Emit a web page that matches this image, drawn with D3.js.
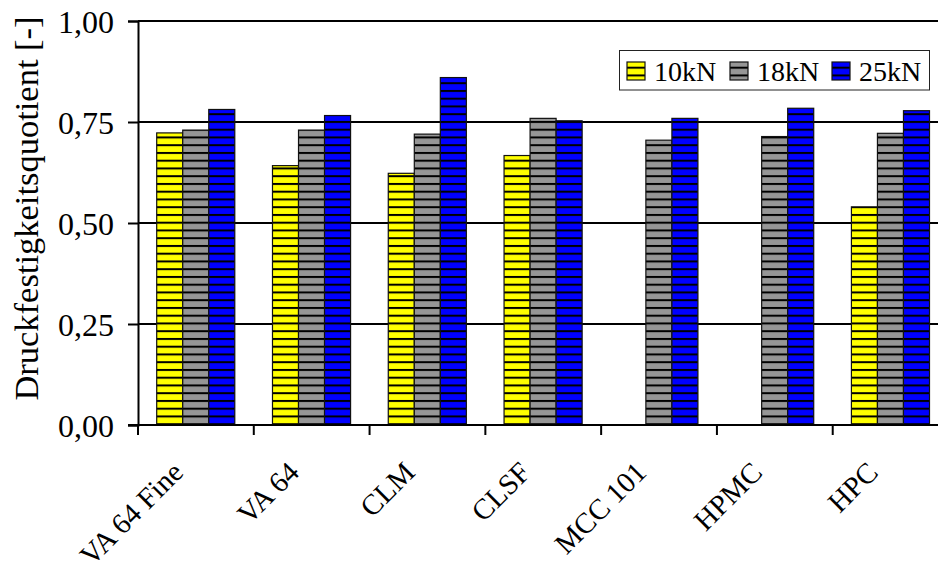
<!DOCTYPE html>
<html>
<head>
<meta charset="utf-8">
<script src="https://cdn.jsdelivr.net/npm/d3@7"></script>
<style>
  html, body { margin: 0; padding: 0; background: #fff; }
  svg { display: block; }
</style>
</head>
<body>
<svg id="chart" width="938" height="578"></svg>
<script>
// ---- data ----
const categories = ["VA 64 Fine", "VA 64", "CLM", "CLSF", "MCC 101", "HPMC", "HPC"];
const seriesNames = ["10kN", "18kN", "25kN"];
const values10kN = [0.723, 0.642, 0.623, 0.667, null, null, 0.540];
const values18kN = [0.730, 0.730, 0.720, 0.759, 0.705, 0.714, 0.722];
const values25kN = [0.781, 0.766, 0.860, 0.753, 0.759, 0.784, 0.778];
const yTicks = [0, 0.25, 0.5, 0.75, 1.0];
const gridTicks = [0.25, 0.5, 0.75, 1.0];
const seriesColors = ["#ffff00", "#969696", "#0000ff"];

const seriesValues = [values10kN, values18kN, values25kN];
const FONT = '"Liberation Serif"';

const svg = d3.select("#chart");

const x0 = 138, x1 = 948.5, yBottom = 425, yTop = 21;

const x = d3.scaleBand().domain(categories).range([x0, x1]).paddingInner(0).paddingOuter(0);
const xs = d3.scaleBand().domain(seriesNames).range([18.7, x.bandwidth() - 19]).padding(0);
const y = d3.scaleLinear().domain([0, 1]).range([yBottom, yTop]);

// hatch patterns (page-anchored horizontal black lines)
const defs = svg.append("defs");
const period = 7.75, phase = 5.7;
seriesNames.forEach((s, i) => {
  const p = defs.append("pattern")
    .attr("id", "hatch" + i)
    .attr("patternUnits", "userSpaceOnUse")
    .attr("x", 0).attr("y", phase - 1 - period)
    .attr("width", 20).attr("height", period);
  p.append("rect").attr("width", 20).attr("height", period).attr("fill", seriesColors[i]);
  p.append("rect").attr("x", 0).attr("y", 0).attr("width", 20).attr("height", 2).attr("fill", "#000");
});

// gridlines
svg.append("g").selectAll("line").data(gridTicks).join("line")
  .attr("x1", x0).attr("x2", 938)
  .attr("y1", d => y(d)).attr("y2", d => y(d))
  .attr("stroke", "#000").attr("stroke-width", 2);

// bars
const barData = [];
categories.forEach((c, ci) => {
  seriesNames.forEach((s, si) => {
    const v = seriesValues[si][ci];
    if (v != null) barData.push({ c, s, si, v });
  });
});
svg.append("g").selectAll("rect").data(barData).join("rect")
  .attr("x", d => x(d.c) + xs(d.s))
  .attr("y", d => y(d.v))
  .attr("width", xs.bandwidth())
  .attr("height", d => y(0) - y(d.v))
  .attr("fill", d => `url(#hatch${d.si})`)
  .attr("stroke", "#111").attr("stroke-width", 1.2);

// y axis
const yAxis = d3.axisLeft(y).tickValues(yTicks).tickSize(10).tickPadding(14)
  .tickFormat(d => d.toFixed(2).replace(".", ","));
const gy = svg.append("g").attr("transform", `translate(${x0},0)`).call(yAxis);
gy.select(".domain").attr("stroke", "#000").attr("stroke-width", 2);
gy.selectAll(".tick line").attr("stroke", "#000").attr("stroke-width", 2);
gy.selectAll(".tick text").attr("font-size", 32).attr("dy", "0.35em")
  .style("font-family", FONT).attr("fill", "#000");

// x axis
svg.append("line").attr("x1", x0 - 10).attr("x2", 938).attr("y1", yBottom).attr("y2", yBottom)
  .attr("stroke", "#000").attr("stroke-width", 2);
const boundaries = categories.map(c => x(c)).concat([x(categories[categories.length - 1]) + x.bandwidth()]);
svg.append("g").selectAll("line").data(boundaries).join("line")
  .attr("x1", d => d).attr("x2", d => d)
  .attr("y1", yBottom).attr("y2", yBottom + 10)
  .attr("stroke", "#000").attr("stroke-width", 2);

svg.append("g").selectAll("text").data(categories).join("text")
  .attr("transform", d => `translate(${x(d) + x.bandwidth() / 2 - 11},474) rotate(-45)`)
  .attr("text-anchor", "end")
  .attr("font-size", 29)
  .style("font-family", FONT)
  .text(d => d);

// y title
svg.append("text")
  .attr("transform", "translate(38,208.5) rotate(-90)")
  .attr("text-anchor", "middle")
  .attr("font-size", 34.5)
  .style("font-family", FONT)
  .text("Druckfestigkeitsquotient [-]");

// legend
const lg = svg.append("g");
lg.append("rect").attr("x", 619.5).attr("y", 50.5).attr("width", 310).attr("height", 39.5)
  .attr("fill", "#fff").attr("stroke", "#222").attr("stroke-width", 1);
const legX = [627, 730, 832];
const legItems = lg.selectAll("g.item").data(seriesNames).join("g").attr("class", "item");
legItems.append("rect")
  .attr("x", (d, i) => legX[i]).attr("y", 62)
  .attr("width", 18).attr("height", 18)
  .attr("fill", (d, i) => `url(#hatch${i})`)
  .attr("stroke", "#111").attr("stroke-width", 1.2);
legItems.append("text")
  .attr("x", (d, i) => legX[i] + 27).attr("y", 81)
  .attr("font-size", 28)
  .style("font-family", FONT)
  .text(d => d);
</script>
</body>
</html>
